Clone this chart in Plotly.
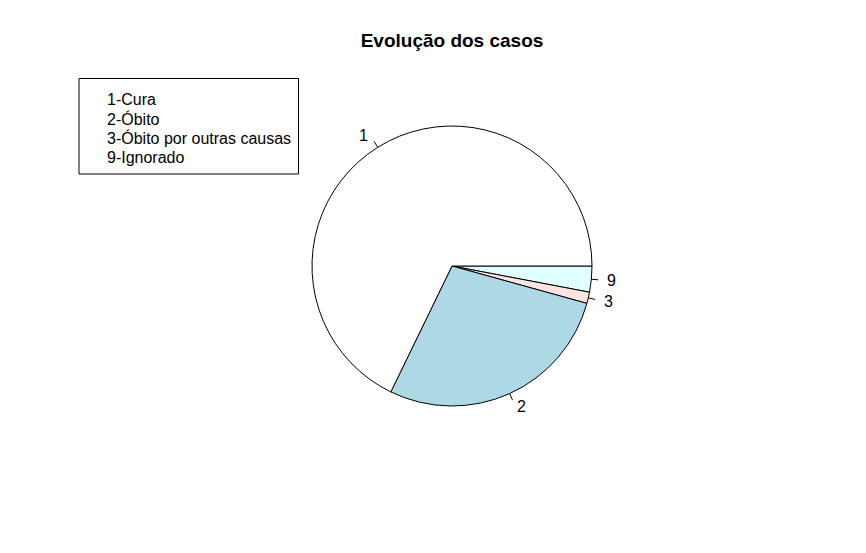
import math
import plotly.graph_objects as go

# ---- data ----
slice_labels = ["1", "2", "3", "9"]
slice_values = [678, 279, 13, 30]
slice_colors = ["white", "lightblue", "mistyrose", "lightcyan"]
legend_texts = ["1-Cura", "2-Óbito", "3-Óbito por outras causas", "9-Ignorado"]
title_text = "Evolução dos casos"

W, H = 866, 553
CX, CY, R = 452, 266, 140  # pie centre / radius in pixels
FONT = "Liberation Sans, Arial, sans-serif"


def px(x):
    return x / W


def py(y):
    return 1 - y / H


fig = go.Figure()

# R draws counter-clockwise from 3 o'clock; plotly clockwise from rotation,
# so feed the slices reversed, clockwise, starting at 3 o'clock.
fig.add_trace(go.Pie(
    labels=slice_labels[::-1],
    values=slice_values[::-1],
    marker=dict(colors=slice_colors[::-1], line=dict(color="black", width=1)),
    sort=False,
    direction="clockwise",
    rotation=90,
    textinfo="none",
    hoverinfo="label+value",
    showlegend=False,
    domain=dict(x=[px(CX - R), px(CX + R)], y=[py(CY + R), py(CY - R)]),
))

shapes = []
annotations = []

# tick marks and labels at slice mid-angles (R style)
total = sum(slice_values)
cum = 0
for lab, v in zip(slice_labels, slice_values):
    mid = 2 * math.pi * (cum + v / 2) / total
    cum += v
    c, s = math.cos(mid), math.sin(mid)
    x0, y0 = CX + R * c, CY - R * s
    x1, y1 = CX + 1.05 * R * c, CY - 1.05 * R * s
    shapes.append(dict(type="line", xref="paper", yref="paper",
                       x0=px(x0), y0=py(y0), x1=px(x1), y1=py(y1),
                       line=dict(color="black", width=1)))
    tx, ty = CX + 1.1 * R * c, CY - 1.1 * R * s
    annotations.append(dict(xref="paper", yref="paper", x=px(tx), y=py(ty),
                            text=lab, showarrow=False,
                            xanchor="left" if c >= 0 else "right",
                            yanchor="middle",
                            font=dict(family=FONT, size=16, color="black")))

# legend box (R style, text only)
shapes.append(dict(type="rect", xref="paper", yref="paper",
                   x0=px(79), x1=px(298.5), y0=py(78.5), y1=py(174),
                   line=dict(color="black", width=1), fillcolor="rgba(0,0,0,0)"))
for i, t in enumerate(legend_texts):
    annotations.append(dict(xref="paper", yref="paper", x=px(105),
                            y=py(99.5 + 19.3 * i), text=t, showarrow=False,
                            xanchor="left", yanchor="middle",
                            font=dict(family=FONT, size=16, color="black")))

fig.update_layout(
    width=W, height=H,
    margin=dict(l=0, r=0, t=0, b=0),
    paper_bgcolor="white",
    plot_bgcolor="white",
    title=dict(text="<b>" + title_text + "</b>", x=px(CX), y=py(40),
               xanchor="center", yanchor="middle", xref="paper", yref="paper",
               font=dict(family=FONT, size=19, color="black")),
    shapes=shapes,
    annotations=annotations,
)

fig.write_html("out.html")
